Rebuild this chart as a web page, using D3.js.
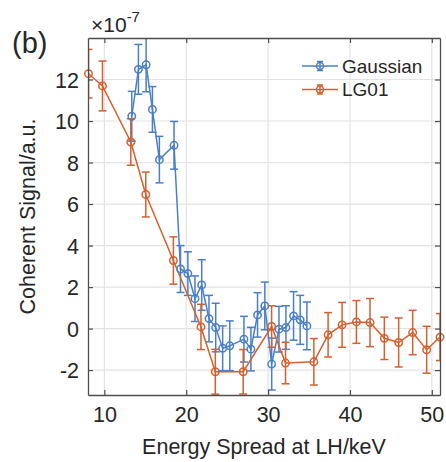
<!DOCTYPE html>
<meta charset="utf-8">
<script src="https://d3js.org/d3.v7.min.js"></script>
<style>
  body { margin: 0; background: #fff; }
  text { font-family: "Liberation Sans", Arial, sans-serif; fill: #262626; }
</style>
<div id="my_dataviz"></div>
<script>

  // data (signal in units of 1e-7)
  var gaussX = [13.35, 14.16, 15.1, 15.87, 16.72, 18.51, 19.3, 20.2, 21.07, 21.89, 22.78, 23.6, 24.45, 25.32, 27.05, 27.9, 28.71, 29.6, 30.44, 31.33, 32.18, 33.11, 33.92, 34.74]
  var gaussY = [10.23, 12.49, 12.71, 10.56, 8.14, 8.83, 2.87, 2.65, 1.44, 2.1, 0.48, 0.05, -0.95, -0.83, -0.51, -0.99, 0.66, 1.09, -1.71, -0.03, 0.05, 0.61, 0.42, 0.13]
  var gaussErr = [1.2, 1.2, 1.3, 1.1, 1.12, 1.15, 1.13, 1.05, 1.1, 1.22, 1.12, 1.17, 1.08, 1.2, 1.1, 1.05, 1.07, 1.15, 1.25, 1.1, 1.05, 1.17, 1.18, 1.15]

  var lgX = [8.06, 9.77, 13.23, 15.06, 18.43, 21.8, 23.55, 26.96, 30.43, 32.13, 35.59, 37.33, 39.04, 40.79, 42.45, 44.2, 45.95, 47.66, 49.37, 51.0]
  var lgY = [12.28, 11.69, 8.99, 6.46, 3.28, 0.08, -2.08, -2.08, 0.1, -1.66, -1.6, -0.3, 0.18, 0.32, 0.29, -0.47, -0.67, -0.19, -1.02, -0.41]
  var lgErr = [1.17, 1.2, 1.12, 1.08, 1.14, 1.09, 1.08, 1.07, 1.0, 1.0, 1.12, 1.07, 1.08, 1.03, 1.16, 1.02, 1.18, 1.07, 1.13, 1.13]

  var xTicks = [10, 20, 30, 40, 50]
  var yTicks = [-2, 0, 2, 4, 6, 8, 10, 12]
  var seriesNames = ["Gaussian", "LG01"]
  var seriesColors = ["#4a7fc6", "#d3612f"]

  var margin = {top: 38, right: 6, bottom: 67, left: 88},
    width = 446 - margin.left - margin.right,
    height = 462 - margin.top - margin.bottom;

  var svg = d3.select("#my_dataviz")
    .append("svg")
      .attr("width", 446)
      .attr("height", 462)
    .append("g")
      .attr("transform", "translate(" + margin.left + "," + margin.top + ")");

  var x = d3.scaleLinear().domain([8, 51]).range([0, width]);
  var y = d3.scaleLinear().domain([-3.2, 14]).range([height, 0]);

  // grid
  svg.append("g").selectAll("line")
    .data(xTicks).enter().append("line")
      .attr("x1", function(d) { return x(d) }).attr("x2", function(d) { return x(d) })
      .attr("y1", 0).attr("y2", height)
      .attr("stroke", "#e3e3e3").attr("stroke-width", 1.2);
  svg.append("g").selectAll("line")
    .data(yTicks).enter().append("line")
      .attr("y1", function(d) { return y(d) }).attr("y2", function(d) { return y(d) })
      .attr("x1", 0).attr("x2", width)
      .attr("stroke", "#e3e3e3").attr("stroke-width", 1.2);

  // series
  var series = [
    {name: seriesNames[0], color: seriesColors[0], xs: gaussX, ys: gaussY, es: gaussErr},
    {name: seriesNames[1], color: seriesColors[1], xs: lgX, ys: lgY, es: lgErr}
  ];

  svg.append("clipPath").attr("id", "clip")
    .append("rect").attr("width", width).attr("height", height);

  var plot = svg.append("g").attr("clip-path", "url(#clip)");
  var markers = svg.append("g");
  var cap = 4;

  series.forEach(function(s) {
    var pts = s.xs.map(function(v, i) { return {x: v, y: s.ys[i], e: s.es[i]} });
    var g = plot.append("g").attr("stroke", s.color).attr("fill", "none").attr("stroke-width", 1.5);

    g.append("path")
      .datum(pts)
      .attr("d", d3.line().x(function(d) { return x(d.x) }).y(function(d) { return y(d.y) }));

    var eb = g.selectAll(".eb").data(pts).enter().append("g");
    eb.append("line")
      .attr("x1", function(d) { return x(d.x) }).attr("x2", function(d) { return x(d.x) })
      .attr("y1", function(d) { return y(d.y - d.e) }).attr("y2", function(d) { return y(d.y + d.e) });
    eb.append("line")
      .attr("x1", function(d) { return x(d.x) - cap }).attr("x2", function(d) { return x(d.x) + cap })
      .attr("y1", function(d) { return y(d.y + d.e) }).attr("y2", function(d) { return y(d.y + d.e) });
    eb.append("line")
      .attr("x1", function(d) { return x(d.x) - cap }).attr("x2", function(d) { return x(d.x) + cap })
      .attr("y1", function(d) { return y(d.y - d.e) }).attr("y2", function(d) { return y(d.y - d.e) });

    markers.append("g").attr("stroke", s.color).attr("fill", "none").attr("stroke-width", 1.5)
      .selectAll("circle").data(pts).enter().append("circle")
      .attr("cx", function(d) { return x(d.x) })
      .attr("cy", function(d) { return y(d.y) })
      .attr("r", 3.7);
  });

  // axes (box with inward ticks)
  var axisColor = "#4d4d4d";
  var fmt = function(d) { return String(d) };
  var xb = svg.append("g").attr("transform", "translate(0," + height + ")")
    .call(d3.axisBottom(x).tickValues(xTicks).tickSizeInner(-5).tickSizeOuter(0).tickPadding(12).tickFormat(fmt));
  var xt = svg.append("g")
    .call(d3.axisTop(x).tickValues(xTicks).tickSizeInner(-5).tickSizeOuter(0).tickFormat(""));
  var yl = svg.append("g")
    .call(d3.axisLeft(y).tickValues(yTicks).tickSizeInner(-5).tickSizeOuter(0).tickPadding(9).tickFormat(fmt));
  var yr = svg.append("g").attr("transform", "translate(" + width + ",0)")
    .call(d3.axisRight(y).tickValues(yTicks).tickSizeInner(-5).tickSizeOuter(0).tickFormat(""));

  [xb, xt, yl, yr].forEach(function(a) {
    a.select(".domain").attr("stroke", axisColor).attr("stroke-width", 1.3);
    a.selectAll(".tick line").attr("stroke", axisColor).attr("stroke-width", 1.2);
    a.selectAll("text").style("font-size", "21.5px").attr("fill", "#262626")
      .style("font-family", "Liberation Sans, Arial, sans-serif");
  });
  yl.selectAll("text").attr("dy", "0.36em");

  // labels
  svg.append("text")
    .attr("x", width / 2).attr("y", height + 59)
    .attr("text-anchor", "middle").style("font-size", "21.5px")
    .text("Energy Spread at LH/keV");
  svg.append("text")
    .attr("transform", "translate(" + (-53) + "," + (height / 2) + ") rotate(-90)")
    .attr("text-anchor", "middle").style("font-size", "21.5px")
    .text("Coherent Signal/a.u.");

  var mult = svg.append("text").attr("x", 3).attr("y", -6).style("font-size", "21px").attr("fill", "#4d4d4d");
  mult.append("tspan").text("\u00d710");
  mult.append("tspan").attr("dy", -10).style("font-size", "15px").text("-7");

  svg.append("text")
    .attr("x", -76).attr("y", 15)
    .style("font-size", "29px")
    .text("(b)");

  // legend
  var leg = svg.append("g").attr("transform", "translate(" + (302 - margin.left) + "," + (66 - margin.top) + ")");
  series.forEach(function(s, i) {
    var row = leg.append("g").attr("transform", "translate(0," + (i * 23.5) + ")")
      .attr("stroke", s.color).attr("fill", "none").attr("stroke-width", 1.5);
    row.append("line").attr("x1", 0).attr("x2", 36).attr("y1", 0).attr("y2", 0);
    row.append("line").attr("x1", 18).attr("x2", 18).attr("y1", -4.5).attr("y2", 4.5);
    row.append("line").attr("x1", 15).attr("x2", 21).attr("y1", -4.5).attr("y2", -4.5);
    row.append("line").attr("x1", 15).attr("x2", 21).attr("y1", 4.5).attr("y2", 4.5);
    row.append("circle").attr("cx", 18).attr("cy", 0).attr("r", 3.5);
    leg.append("text")
      .attr("x", 40).attr("y", i * 23.5).attr("dy", "0.36em")
      .style("font-size", "19px")
      .text(s.name);
  });

</script>
